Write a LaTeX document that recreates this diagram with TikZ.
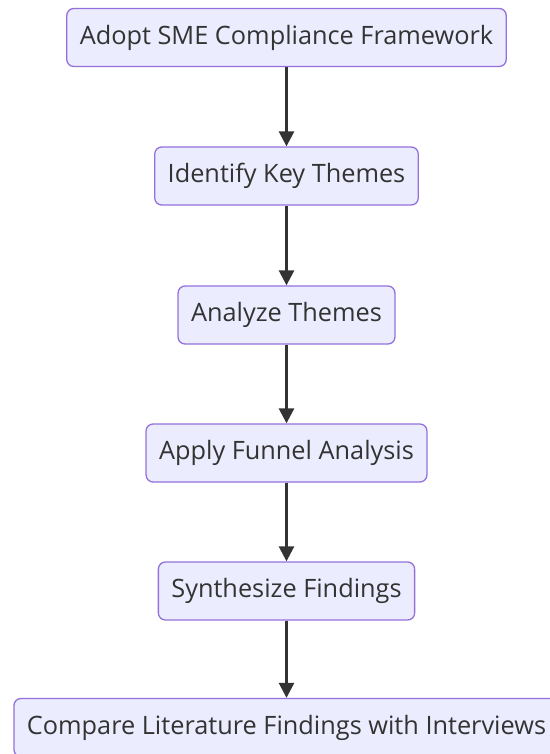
\documentclass[tikz,border=0pt]{standalone}
\usepackage{fontspec}
\setmainfont{Open Sans}
\usetikzlibrary{arrows.meta}
\definecolor{stepfill}{HTML}{ECECFF}
\definecolor{stepline}{HTML}{9370DB}
\definecolor{inkgray}{HTML}{333333}
\begin{document}
\begin{tikzpicture}[
            x=1pt, y=-1pt,
            stepbox/.style={
                rectangle,
                rounded corners=7pt,
                draw=stepline,
                fill=stepfill,
                line width=1.3pt,
                text=inkgray,
                minimum height=58pt,
                inner xsep=13pt,
                font=\fontsize{25.3}{28}\selectfont
            },
            flow/.style={
                -{Triangle[length=15pt, width=15pt]},
                draw=inkgray,
                line width=2.6pt
            }
        ]

            \useasboundingbox (0, 0) rectangle (549, 754);

            \node[stepbox] (adopt) at (286.5, 37.5) {Adopt SME Compliance Framework};
            \node[stepbox] (identify) at (286.5, 176) {Identify Key Themes};
            \node[stepbox] (analyze) at (286.5, 315) {Analyze Themes};
            \node[stepbox] (funnel) at (286.5, 453) {Apply Funnel Analysis};
            \node[stepbox] (synth) at (286.5, 591) {Synthesize Findings};
            \node[stepbox] (compare) at (286.5, 727.5) {Compare Literature Findings with Interviews};

            \draw[flow] (adopt) -- (identify);
            \draw[flow] (identify) -- (analyze);
            \draw[flow] (analyze) -- (funnel);
            \draw[flow] (funnel) -- (synth);
            \draw[flow] (synth) -- (compare);

        \end{tikzpicture}
\end{document}
